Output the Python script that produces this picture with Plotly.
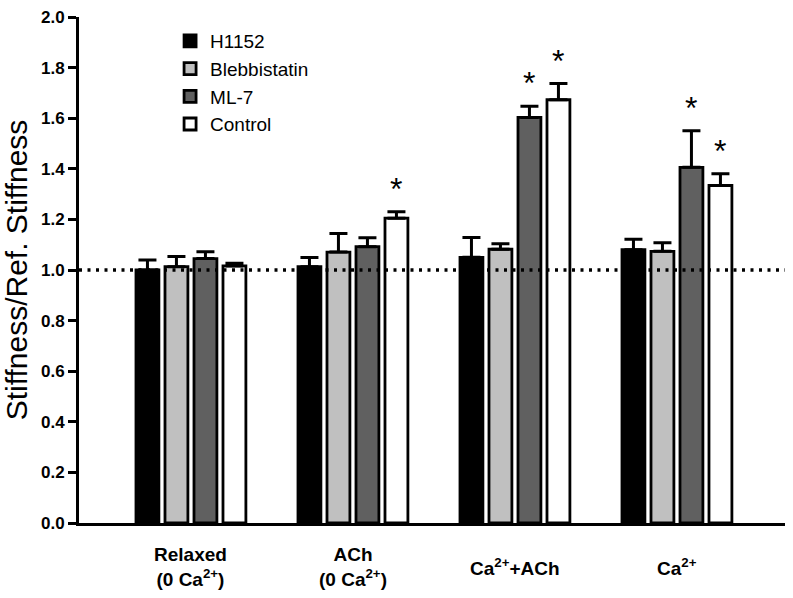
import plotly.graph_objects as go

categories = ["Relaxed<br>(0 Ca<sup>2+</sup>)", "ACh<br>(0 Ca<sup>2+</sup>)", "Ca<sup>2+</sup>+ACh", "Ca<sup>2+</sup>"]
series_names = ["H1152", "Blebbistatin", "ML-7", "Control"]
h1152 = [1.00, 1.013, 1.050, 1.080]
h1152_err = [0.04, 0.036, 0.078, 0.042]
blebb = [1.013, 1.071, 1.082, 1.074]
blebb_err = [0.040, 0.073, 0.022, 0.034]
ml7 = [1.045, 1.092, 1.603, 1.406]
ml7_err = [0.027, 0.035, 0.044, 0.144]
control = [1.016, 1.205, 1.673, 1.334]
control_err = [0.011, 0.025, 0.064, 0.046]
# significance markers (series index, category index)
significant = [(3, 1), (2, 2), (3, 2), (2, 3), (3, 3)]
y_ticks = [0.0, 0.2, 0.4, 0.6, 0.8, 1.0, 1.2, 1.4, 1.6, 1.8, 2.0]
reference_level = 1.0

colors = ["#000000", "#c0c0c0", "#606060", "#ffffff"]
values = [h1152, blebb, ml7, control]
errors = [h1152_err, blebb_err, ml7_err, control_err]

font = "Arial, Liberation Sans, Helvetica, sans-serif"
x_idx = list(range(len(categories)))

fig = go.Figure()
for name, col, v, e in zip(series_names, colors, values, errors):
    fig.add_trace(go.Bar(
        x=x_idx, y=v, name=name,
        marker=dict(color=col, line=dict(color="black", width=2.8)),
        error_y=dict(type="data", array=e, arrayminus=[0] * len(e), symmetric=False,
                     color="black", thickness=3, width=9),
    ))

bargap = 0.284
groupgap = 0.21
n = len(series_names)
slot = (1 - bargap) / n
annotations = []
for s, c in significant:
    xpos = c - (1 - bargap) / 2 + slot * (s + 0.5)
    annotations.append(dict(x=xpos, y=values[s][c] + errors[s][c], xref="x", yref="y",
                            text="*", showarrow=False, yanchor="bottom", yshift=3,
                            font=dict(size=32, color="black", family=font)))
for i, lab in enumerate(categories):
    annotations.append(dict(x=i, y=-0.087, xref="x", yref="paper", text="<b>" + lab + "</b>",
                            showarrow=False, yanchor="middle", xanchor="center",
                            font=dict(size=19, color="black", family=font)))

fig.add_shape(type="line", xref="paper", yref="y", x0=0, x1=1, y0=reference_level, y1=reference_level,
              line=dict(color="black", width=3.5, dash="3px,5.5px"))

fig.update_layout(
    width=793, height=598,
    margin=dict(l=79, r=8, t=12, b=75),
    plot_bgcolor="white", paper_bgcolor="white",
    barmode="group", bargap=bargap, bargroupgap=groupgap,
    font=dict(family=font, color="black"),
    showlegend=True,
    legend=dict(x=0.129, y=0.99, xanchor="left", yanchor="top",
                font=dict(size=19, family=font), bgcolor="rgba(0,0,0,0)",
                tracegroupgap=0, itemwidth=30),
    annotations=annotations,
    xaxis=dict(range=[-0.691, 3.667], tickvals=x_idx, showticklabels=False,
               showline=True, linecolor="black", linewidth=3, ticks="",
               showgrid=False, zeroline=False),
    yaxis=dict(range=[0, 2.0], tickvals=y_ticks, ticktext=["<b>%.1f</b>" % t for t in y_ticks],
               showline=True, linecolor="black", linewidth=3, ticks="outside",
               ticklen=8, tickwidth=3, tickcolor="black", showgrid=False, zeroline=False,
               tickfont=dict(size=17, family=font),
               title=dict(text="Stiffness/Ref. Stiffness", font=dict(size=30, family=font), standoff=8)),
)

fig.write_html("out.html", config={"displayModeBar": False},
               post_script="document.body.style.margin='0';")
